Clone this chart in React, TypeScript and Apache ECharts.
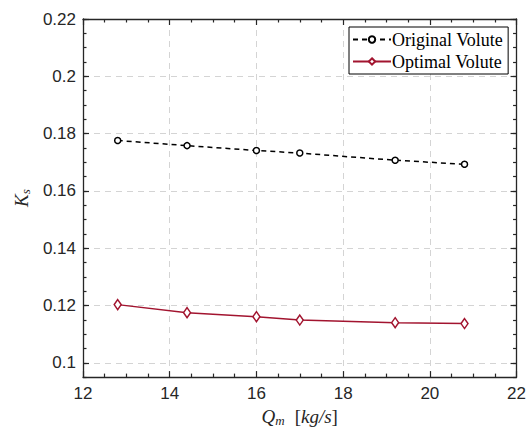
import React, { useEffect, useRef } from "react";
import * as echarts from "echarts";

const qm = [12.8, 14.4, 16.0, 17.0, 19.2, 20.8];
const originalKs = [0.1776, 0.1758, 0.1741, 0.1732, 0.1707, 0.1693];
const optimalKs = [0.1203, 0.1175, 0.1161, 0.1149, 0.114, 0.1137];
const yTicks = [0.1, 0.12, 0.14, 0.16, 0.18, 0.2, 0.22];
const seriesNames = ["Original Volute", "Optimal Volute"];

const AX = "#262626";
const RED = "#A2142F";
const GRID = "#d4d4d4";

export default function App() {
  const ref = useRef<HTMLDivElement>(null);
  useEffect(() => {
    if (!ref.current) return;
    const chart = echarts.init(ref.current, null, { renderer: "svg" });
    const yBase = {
      type: "value",
      min: 0.095,
      max: 0.22,
      axisLine: { show: true, lineStyle: { color: AX, width: 1.3 } },
    };
    const majorY = (pos: string, labels: boolean, split: boolean) => ({
      ...yBase,
      position: pos,
      axisTick: { show: true, inside: true, length: 6, customValues: yTicks, lineStyle: { color: AX, width: 1.2 } },
      axisLabel: labels
        ? { show: true, customValues: yTicks, margin: 7, color: AX, fontSize: 17, fontFamily: "Liberation Sans", formatter: (v: number) => String(+v.toFixed(2)) }
        : { show: false },
      splitLine: split ? { show: true, lineStyle: { color: GRID, type: [6, 5], width: 1 } } : { show: false },
      minorTick: { show: false },
    });
    const minorY = (pos: string) => ({
      ...yBase,
      position: pos,
      interval: 0.005,
      axisLine: { show: false },
      axisTick: { show: true, inside: true, length: 3.5, lineStyle: { color: AX, width: 1.2 } },
      axisLabel: { show: false },
      splitLine: { show: false },
    });
    const xBase = (pos: string, labels: boolean, split: boolean) => ({
      type: "value",
      position: pos,
      min: 12,
      max: 22,
      interval: 2,
      axisLine: { show: true, lineStyle: { color: AX, width: 1.3 } },
      axisTick: { show: true, inside: true, length: 6, lineStyle: { color: AX, width: 1.2 } },
      minorTick: { show: true, splitNumber: 4, length: 3.5, lineStyle: { color: AX, width: 1.2 } },
      axisLabel: labels ? { show: true, margin: 8, color: AX, fontSize: 17, fontFamily: "Liberation Sans" } : { show: false },
      splitLine: split ? { show: true, lineStyle: { color: GRID, type: [6, 5], width: 1 } } : { show: false },
    });
    chart.setOption({
      animation: false,
      backgroundColor: "#ffffff",
      grid: { left: 83, right: 11, top: 19, bottom: 53 },
      legend: {
        data: seriesNames,
        orient: "vertical",
        left: 349,
        top: 27,
        padding: [3, 5, 3, 3],
        itemGap: 3,
        itemWidth: 38,
        itemHeight: 8,
        backgroundColor: "#ffffff",
        borderColor: "#000000",
        borderWidth: 1,
        borderRadius: 0,
        textStyle: { fontFamily: "Liberation Serif", fontSize: 18, lineHeight: 19, color: "#000", padding: [0, 0, 0, -4] },
      },
      xAxis: [
        {
          ...xBase("bottom", true, true),
          name: "{i|Q}{s|m}   {r|[}{i|kg/s}{r|]}",
          nameLocation: "middle",
          nameGap: 26,
          nameTextStyle: {
            rich: {
              i: { fontFamily: "Liberation Serif", fontStyle: "italic", fontSize: 19, color: AX },
              s: { fontFamily: "Liberation Serif", fontStyle: "italic", fontSize: 13, color: AX, verticalAlign: "bottom", padding: [8, 0, 0, 0] },
              r: { fontFamily: "Liberation Serif", fontSize: 19, color: AX },
            },
          },
        },
        xBase("top", false, false),
      ],
      yAxis: [
        {
          ...majorY("left", true, true),
          name: "{i|K}{s|s}",
          nameLocation: "middle",
          nameGap: 49,
          nameRotate: 90,
          nameTextStyle: {
            rich: {
              i: { fontFamily: "Liberation Serif", fontStyle: "italic", fontSize: 19, color: AX },
              s: { fontFamily: "Liberation Serif", fontStyle: "italic", fontSize: 13, color: AX, verticalAlign: "bottom", padding: [8, 0, 0, 0] },
            },
          },
        },
        minorY("left"),
        majorY("right", false, false),
        minorY("right"),
      ],
      series: [
        {
          name: seriesNames[0],
          type: "line",
          data: qm.map((x, i) => [x, originalKs[i]]),
          symbol: "circle",
          symbolSize: 6,
          lineStyle: { color: "#000", width: 1.5, type: [5, 4] },
          itemStyle: { color: "#ffffff", borderColor: "#000", borderWidth: 1.5 },
          z: 5,
        },
        {
          name: seriesNames[1],
          type: "line",
          data: qm.map((x, i) => [x, optimalKs[i]]),
          symbol: "diamond",
          symbolSize: [7, 10],
          lineStyle: { color: RED, width: 1.5 },
          itemStyle: { color: "#ffffff", borderColor: RED, borderWidth: 1.5 },
          z: 5,
        },
      ],
    });
    return () => chart.dispose();
  }, []);
  return <div ref={ref} style={{ position: "fixed", left: 0, top: 0, width: 529, height: 432 }} />;
}
